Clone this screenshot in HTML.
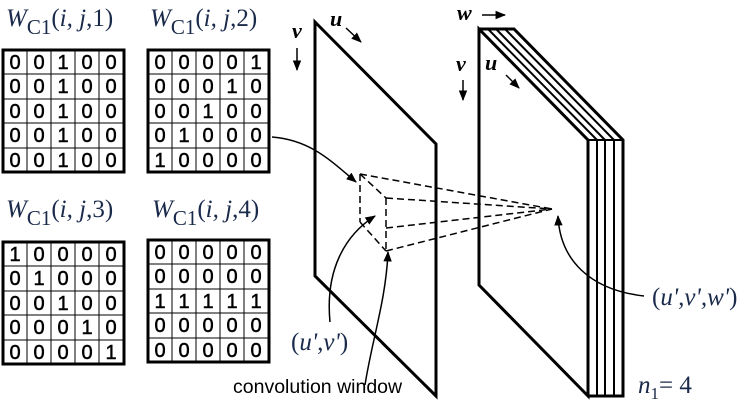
<!DOCTYPE html>
<html><head><style>body{margin:0;background:#fff}svg{display:block}</style></head><body>
<svg width="750" height="407" viewBox="0 0 750 407" xmlns="http://www.w3.org/2000/svg">
<defs><marker id="a" viewBox="0 0 10 10" refX="9" refY="5" markerWidth="7" markerHeight="7" orient="auto-start-reverse"><path d="M0,1 L10,5 L0,9 z" fill="#000"/></marker></defs>
<g font-family="Liberation Serif,serif" font-style="italic" fill="#1a2a4a" font-size="25">
<text x="6" y="26">W<tspan font-size="21" font-style="normal" dy="8">C1</tspan><tspan dy="-8" font-style="normal">(</tspan>i, j<tspan font-style="normal">,1)</tspan></text>
<text x="150" y="26">W<tspan font-size="21" font-style="normal" dy="8">C1</tspan><tspan dy="-8" font-style="normal">(</tspan>i, j<tspan font-style="normal">,2)</tspan></text>
<text x="6" y="217">W<tspan font-size="21" font-style="normal" dy="8">C1</tspan><tspan dy="-8" font-style="normal">(</tspan>i, j<tspan font-style="normal">,3)</tspan></text>
<text x="152" y="217">W<tspan font-size="21" font-style="normal" dy="8">C1</tspan><tspan dy="-8" font-style="normal">(</tspan>i, j<tspan font-style="normal">,4)</tspan></text>
<text x="291" y="350"><tspan font-style="normal">(</tspan>u',v'<tspan font-style="normal">)</tspan></text>
<text x="652" y="305"><tspan font-style="normal">(</tspan>u',v',w'<tspan font-style="normal">)</tspan></text>
<text x="638" y="393">n<tspan font-size="17" font-style="normal" dy="6">1</tspan><tspan dy="-6" font-style="normal">= 4</tspan></text>
</g>
<g font-family="Liberation Serif,serif" font-style="italic" font-weight="bold" font-size="22" fill="#000">
<text x="292" y="38">v</text><text x="330" y="26">u</text>
<text x="457" y="20">w</text><text x="456" y="71">v</text><text x="485" y="70">u</text>
</g>
<g stroke="#000" stroke-width="1.5" fill="none" marker-end="url(#a)">
<line x1="297" y1="48" x2="297" y2="70"/><line x1="346" y1="28" x2="361" y2="42"/>
<line x1="482" y1="15" x2="505" y2="15"/><line x1="463" y1="80" x2="463" y2="100"/><line x1="506" y1="75" x2="519" y2="88"/>
<path d="M272,137 C310,140 330,160 356,182"/>
<path d="M330,322 C325,270 345,235 375,216"/>
<path d="M365,385 C372,340 386,300 388,252"/>
<path d="M644,296 C590,290 560,260 558,216"/>
</g>
<g stroke="#000" stroke-width="3" fill="none">
<polygon points="315,22 436,144 436,396 315,276"/>
<polygon points="479,29 588,140 588,396 479,285"/>
<polyline points="479,29 514,29 623,140 623,396 588,396"/>
</g>
<g stroke="#000" stroke-width="2" fill="none">
<line x1="488" y1="29" x2="597" y2="140"/><line x1="496" y1="29" x2="605" y2="140"/><line x1="505" y1="29" x2="614" y2="140"/>
<line x1="597" y1="140" x2="597" y2="396"/><line x1="605" y1="140" x2="605" y2="396"/><line x1="614" y1="140" x2="614" y2="396"/>
<line x1="588" y1="140" x2="623" y2="140"/>
</g>
<g stroke="#000" stroke-width="1.5" fill="none" stroke-dasharray="7,4">
<line x1="360" y1="174" x2="360" y2="222"/><line x1="360" y1="174" x2="386" y2="198"/><line x1="360" y1="222" x2="386" y2="251"/>
<line x1="386" y1="198" x2="386" y2="251"/>
<line x1="360" y1="174" x2="552" y2="209"/><line x1="386" y1="198" x2="552" y2="209"/><line x1="386" y1="228" x2="552" y2="209"/><line x1="386" y1="251" x2="552" y2="209"/>
</g>
<text x="233" y="393" font-family="Liberation Sans,sans-serif" font-size="19.5" fill="#000">convolution window</text>
<g fill="none" stroke="#000" stroke-width="3">
<rect x="3" y="50" width="121" height="122"/><rect x="148" y="50" width="121" height="122"/>
<rect x="3" y="242" width="121" height="122"/><rect x="148" y="240" width="121" height="122"/>
</g>
<g stroke="#000" stroke-width="1">
<path d="M27,50V172M51,50V172M75,50V172M99,50V172M3,74H124M3,99H124M3,123H124M3,148H124"/>
<path d="M172,50V172M196,50V172M220,50V172M244,50V172M148,74H269M148,99H269M148,123H269M148,148H269"/>
<path d="M27,242V364M51,242V364M75,242V364M99,242V364M3,266H124M3,291H124M3,315H124M3,340H124"/>
<path d="M172,240V362M196,240V362M220,240V362M244,240V362M148,264H269M148,289H269M148,313H269M148,338H269"/>
</g>
<g font-family="Liberation Sans,sans-serif" font-size="20" fill="#000" stroke="#000" stroke-width="0.5" text-anchor="middle">
<text x="15 39 63 87 111" y="69">00100</text>
<text x="15 39 63 87 111" y="93">00100</text>
<text x="15 39 63 87 111" y="118">00100</text>
<text x="15 39 63 87 111" y="142">00100</text>
<text x="15 39 63 87 111" y="167">00100</text>
<text x="160 184 208 232 256" y="69">00001</text>
<text x="160 184 208 232 256" y="93">00010</text>
<text x="160 184 208 232 256" y="118">00100</text>
<text x="160 184 208 232 256" y="142">01000</text>
<text x="160 184 208 232 256" y="167">10000</text>
<text x="15 39 63 87 111" y="261">10000</text>
<text x="15 39 63 87 111" y="285">01000</text>
<text x="15 39 63 87 111" y="310">00100</text>
<text x="15 39 63 87 111" y="334">00010</text>
<text x="15 39 63 87 111" y="359">00001</text>
<text x="160 184 208 232 256" y="259">00000</text>
<text x="160 184 208 232 256" y="283">00000</text>
<text x="160 184 208 232 256" y="308">11111</text>
<text x="160 184 208 232 256" y="332">00000</text>
<text x="160 184 208 232 256" y="357">00000</text>
</g>
</svg>
</body></html>
